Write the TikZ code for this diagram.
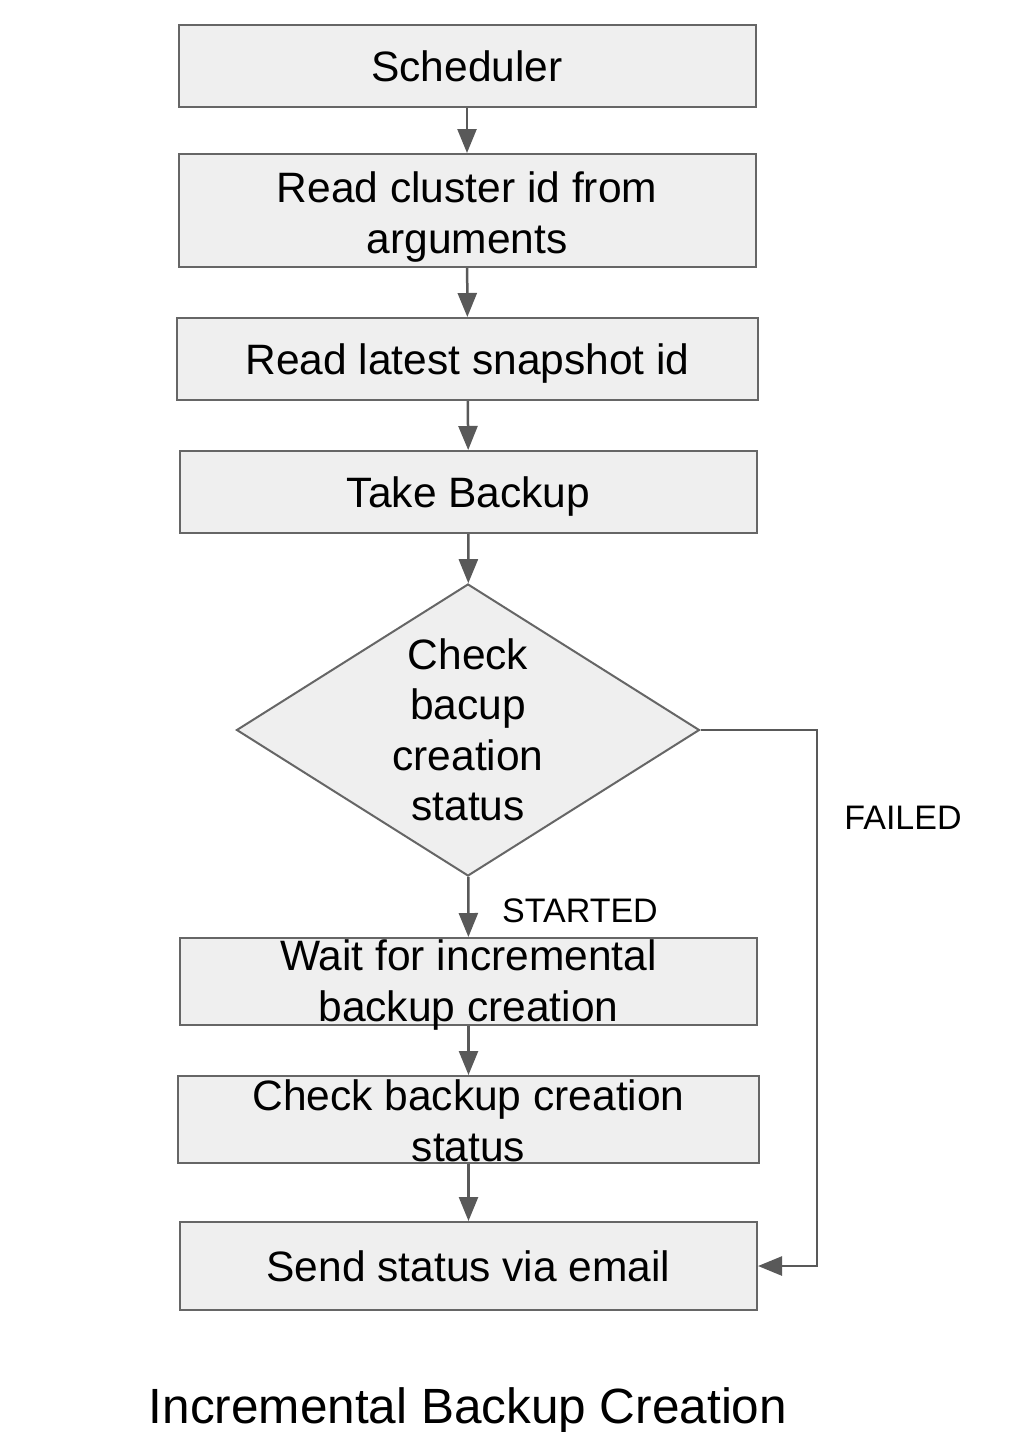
\documentclass[tikz,border=0pt]{standalone}
\usepackage{fontspec}
\setmainfont{Liberation Sans}
\usetikzlibrary{shapes.geometric,arrows.meta}

\definecolor{boxfill}{HTML}{EFEFEF}
\definecolor{boxline}{HTML}{666666}
\definecolor{arrowgray}{HTML}{595959}

\begin{document}
\begin{tikzpicture}[x=1pt, y=-1pt,
    stepbox/.style={draw=boxline, fill=boxfill, line width=2pt, inner sep=0pt,
      minimum width=577pt, minimum height=82pt, align=center,
      font=\fontsize{42.5}{51}\selectfont},
    onerow/.style={text height=34pt, text depth=4pt},
    checkbox/.style={diamond, draw=boxline, fill=boxfill, line width=2pt, inner sep=0pt,
      aspect=1.586, minimum width=463pt, minimum height=292pt, align=center,
      font=\fontsize{42.5}{50.5}\selectfont},
    flow/.style={draw=arrowgray, line width=2.5pt, -{Triangle[length=24pt,width=19pt]}},
    lbl/.style={font=\fontsize{34}{40}\selectfont}]
  \useasboundingbox (0,0) rectangle (1010,1432);

  \node[stepbox, onerow] (sched) at (467,66) {Scheduler};
  \node[stepbox, text height=99pt, text depth=14pt] (args) at (467,210.5) {Read cluster id from\\arguments};
  \node[stepbox, onerow, minimum width=581pt] (snap) at (467.5,359) {Read latest snapshot id};
  \node[stepbox, onerow] (take) at (468.5,492) {Take Backup};
  \node[checkbox] (chk) at (468,730) {Check\\bacup\\creation\\status};
  \node[stepbox, text height=83pt, text depth=4pt] (wait) at (468.5,981.5) {Wait for incremental\\backup creation};
  \node[stepbox, minimum width=581pt, text height=85pt, text depth=2pt] (status) at (468.5,1119.5) {Check backup creation\\status};
  \node[stepbox, onerow, minimum height=88pt] (send) at (468.5,1266) {Send status via email};
  \coordinate (bend) at (817,730);

  \draw[flow] (sched) -- (args);
  \draw[flow] (args) -- (snap);
  \draw[flow] (snap) -- (take);
  \draw[flow] (take) -- (chk);
  \draw[flow] (chk) -- (wait);
  \draw[flow] (wait) -- (status);
  \draw[flow] (status) -- (send);
  \draw[flow] (chk.east) -- (bend) |- (send.east);

  \node[lbl] (started) at (580,911) {STARTED};
  \node[lbl] (failed) at (903,818) {FAILED};
  \node[font=\fontsize{49.5}{58}\selectfont] (title) at (468,1411) {Incremental Backup Creation};
\end{tikzpicture}
\end{document}
